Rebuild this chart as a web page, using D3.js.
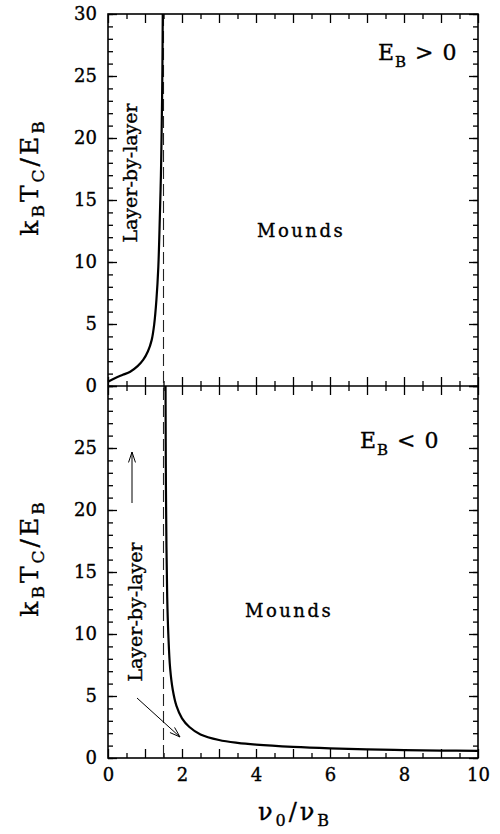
<!doctype html>
<html lang="en">
  <head>
    <meta charset="utf-8">
    <script src="https://d3js.org/d3.v7.min.js"></script>
    <title>Growth mode diagram</title>
    <style>
      body { margin: 0; background: #fff; }
      svg text { font-family: "DejaVu Serif", serif; fill: #000; stroke: #000; stroke-width: 0.35px; }
    </style>
  </head>
  <body>
    <svg id="chart" width="500" height="834"></svg>

  <script type="text/javascript">

// E_B > 0 : boundary curve (nu0/nuB, kT/E)
var topX = [0, 0.2, 0.4, 0.6, 0.8, 0.95, 1.08, 1.18, 1.25, 1.31, 1.36, 1.40, 1.43, 1.45, 1.47, 1.48];
var topY = [0.35, 0.65, 0.9, 1.15, 1.6, 2.1, 2.8, 3.7, 5.0, 7.0, 9.6, 13.5, 17.0, 20.5, 25.5, 30];

// E_B < 0 : boundary curve
var botX = [1.555, 1.565, 1.58, 1.60, 1.63, 1.68, 1.75, 1.85, 2.0, 2.2, 2.5, 3.0, 3.5, 4, 5, 6, 7, 8, 9, 10];
var botY = [30, 22, 17, 13, 10, 7.2, 5.5, 4.2, 3.2, 2.5, 1.9, 1.45, 1.22, 1.08, 0.9, 0.78, 0.7, 0.64, 0.6, 0.57];

var critX = 1.5;   // dashed vertical line
var xTickLabels = [0, 2, 4, 6, 8, 10];
var yTickLabelsTop = [0, 5, 10, 15, 20, 25, 30];
var yTickLabelsBot = [0, 5, 10, 15, 20, 25];

// pixel frame (window.top is reserved, so no "top" here)
var pL = 108, pR = 478, pT = 14, pM = 386, pB = 758;

var svg = d3.select("#chart");
var x = d3.scaleLinear().domain([0, 10]).range([pL, pR]);
var yTop = d3.scaleLinear().domain([0, 30]).range([pM, pT]);
var yBot = d3.scaleLinear().domain([0, 30]).range([pB, pM]);

function cleanAxis(g) {
  g.select(".domain").remove();
  g.selectAll("line").attr("stroke", "#000").attr("stroke-width", 1.3);
  g.selectAll("text").style("font-family", "DejaVu Serif").style("font-size", "18px").attr("fill", "#000");
}

// y ticks, both panels, both sides (inward)
[[yTop, yTickLabelsTop], [yBot, yTickLabelsBot]].forEach(function (p) {
  var ys = p[0];
  svg.append("g").attr("transform", "translate(" + pL + ",0)")
    .call(d3.axisLeft(ys).tickValues(d3.range(0, 31, 1)).tickSize(-5).tickSizeOuter(0).tickFormat(""))
    .call(cleanAxis);
  svg.append("g").attr("transform", "translate(" + pL + ",0)")
    .call(d3.axisLeft(ys).tickValues(d3.range(0, 31, 5)).tickSize(-9).tickSizeOuter(0).tickPadding(11)
      .tickFormat(function (d) { return p[1].indexOf(d) >= 0 ? d : ""; }))
    .call(cleanAxis);
  svg.append("g").attr("transform", "translate(" + pR + ",0)")
    .call(d3.axisRight(ys).tickValues(d3.range(0, 31, 1)).tickSize(-5).tickSizeOuter(0).tickFormat(""))
    .call(cleanAxis);
  svg.append("g").attr("transform", "translate(" + pR + ",0)")
    .call(d3.axisRight(ys).tickValues(d3.range(0, 31, 5)).tickSize(-9).tickSizeOuter(0).tickFormat(""))
    .call(cleanAxis);
});

// x ticks on the three horizontal lines
var minorX = d3.range(0.5, 10, 1), majorX = d3.range(0, 11, 1);
[[pT, 1], [pM, -1], [pM, 1], [pB, -1]].forEach(function (p) {
  var gen = p[1] > 0 ? d3.axisTop : d3.axisBottom;
  svg.append("g").attr("transform", "translate(0," + p[0] + ")")
    .call(gen(x).tickValues(minorX).tickSize(-5).tickSizeOuter(0).tickFormat(""))
    .call(cleanAxis);
  svg.append("g").attr("transform", "translate(0," + p[0] + ")")
    .call(gen(x).tickValues(majorX).tickSize(-9).tickSizeOuter(0).tickFormat(""))
    .call(cleanAxis);
});
svg.append("g").attr("transform", "translate(0," + pB + ")")
  .call(d3.axisBottom(x).tickValues(xTickLabels).tickSize(0).tickSizeOuter(0).tickPadding(10))
  .call(cleanAxis);

// frames
svg.append("rect").attr("x", pL).attr("y", pT).attr("width", pR - pL).attr("height", pB - pT)
  .attr("fill", "none").attr("stroke", "#000").attr("stroke-width", 1.6);
svg.append("line").attr("x1", pL).attr("x2", pR).attr("y1", pM).attr("y2", pM)
  .attr("stroke", "#000").attr("stroke-width", 1.6);

// dashed critical line
svg.append("line").attr("x1", x(critX)).attr("x2", x(critX)).attr("y1", pT).attr("y2", pB)
  .attr("stroke", "#222").attr("stroke-width", 1.1).attr("stroke-dasharray", "12,5");

// curves
var lineTop = d3.line().x(function (d) { return x(d[0]); }).y(function (d) { return yTop(d[1]); }).curve(d3.curveCatmullRom.alpha(0.5));
var lineBot = d3.line().x(function (d) { return x(d[0]); }).y(function (d) { return yBot(d[1]); }).curve(d3.curveCatmullRom.alpha(0.5));
svg.append("path").attr("d", lineTop(d3.zip(topX, topY))).attr("fill", "none").attr("stroke", "#000").attr("stroke-width", 2.2);
svg.append("path").attr("d", lineBot(d3.zip(botX, botY))).attr("fill", "none").attr("stroke", "#000").attr("stroke-width", 2.2);

// y titles
[177, 558].forEach(function (cy) {
  var t = svg.append("text").attr("transform", "translate(38," + cy + ") rotate(-90)")
    .attr("text-anchor", "middle").style("font-size", "25px").style("letter-spacing", "3px");
  t.append("tspan").text("k");
  t.append("tspan").attr("dy", 6).style("font-size", "17px").text("B");
  t.append("tspan").attr("dy", -6).text("T");
  t.append("tspan").attr("dy", 6).style("font-size", "17px").text("C");
  t.append("tspan").attr("dy", -6).text("/E");
  t.append("tspan").attr("dy", 6).style("font-size", "17px").text("B");
});

// x title
var xt = svg.append("text").attr("x", 295).attr("y", 820).attr("text-anchor", "middle")
  .style("font-size", "24px").style("letter-spacing", "3px");
xt.append("tspan").text("\u03bd");
xt.append("tspan").attr("dy", 6).style("font-size", "16px").text("0");
xt.append("tspan").attr("dy", -6).text("/\u03bd");
xt.append("tspan").attr("dy", 6).style("font-size", "16px").text("B");

// region labels
svg.append("text").attr("x", 257).attr("y", 237).style("font-size", "18px").style("letter-spacing", "2.5px").text("Mounds");
svg.append("text").attr("x", 245).attr("y", 617).style("font-size", "18px").style("letter-spacing", "2.5px").text("Mounds");
svg.append("text").attr("transform", "translate(137,173) rotate(-90)").attr("text-anchor", "middle")
  .style("font-size", "19px").text("Layer-by-layer");
svg.append("text").attr("transform", "translate(142,612) rotate(-90)").attr("text-anchor", "middle")
  .style("font-size", "19px").text("Layer-by-layer");

function sign(xp, yp, s) {
  var t = svg.append("text").attr("x", xp).attr("y", yp).style("font-size", "22px").style("letter-spacing", "1px");
  t.append("tspan").text("E");
  t.append("tspan").attr("dy", 7).style("font-size", "15px").text("B");
  t.append("tspan").attr("dy", -7).text(" " + s + " 0");
}
sign(378, 60, ">");
sign(360, 448, "<");

// arrows
function arrow(x1, y1, x2, y2) {
  var a = Math.atan2(y2 - y1, x2 - x1), L = 11, w = 0.32;
  svg.append("path")
    .attr("d", "M" + x1 + "," + y1 + "L" + x2 + "," + y2 +
      "M" + (x2 - L * Math.cos(a - w)) + "," + (y2 - L * Math.sin(a - w)) + "L" + x2 + "," + y2 +
      "L" + (x2 - L * Math.cos(a + w)) + "," + (y2 - L * Math.sin(a + w)))
    .attr("fill", "none").attr("stroke", "#000").attr("stroke-width", 1);
}
arrow(132, 503, 132, 452);
arrow(137, 698, 180, 737);

</script>
  </body>
</html>
